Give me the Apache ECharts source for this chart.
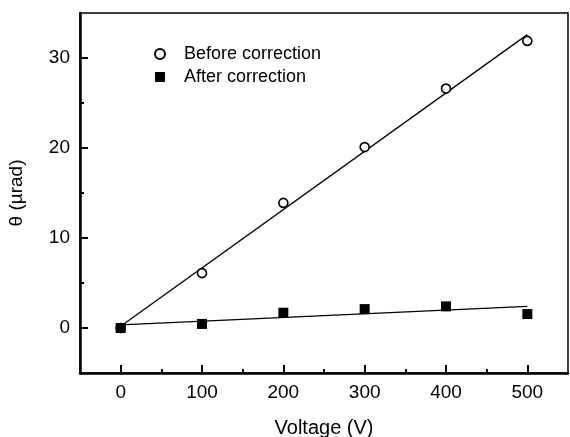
<!DOCTYPE html>
<html>
<head>
<meta charset="utf-8">
<script src="https://cdn.jsdelivr.net/npm/echarts@6/dist/echarts.min.js"></script>
<style>
  html, body { margin: 0; padding: 0; background: #fff; }
  #chart { width: 570px; height: 437px; }
</style>
</head>
<body>
<div id="chart"></div>
<script>
// voltage points
const voltage = [0, 100, 200, 300, 400, 500]
// theta (µrad)
const before = [0, 6.1, 13.9, 20.1, 26.6, 31.9]
const after = [0, 0.45, 1.7, 2.1, 2.4, 1.55]
// linear fit end points
const fitX = [0, 500]
const beforeFit = [0.2, 32.6]
const afterFit = [0.35, 2.4]
// ticks
const xMajor = [0, 100, 200, 300, 400, 500]
const xMinor = [50, 150, 250, 350, 450]
const yMajor = [0, 10, 20, 30]
const yMinor = [5, 15, 25]

const font = 'Liberation Sans, Arial, sans-serif'
const ink = '#000'
const pair = (xs, ys) => xs.map((x, i) => [x, ys[i]])

const chart = echarts.init(document.getElementById('chart'))

const baseX = { type: 'value', min: -50, max: 550, splitLine: { show: false } }
const baseY = { type: 'value', min: -5, max: 35, splitLine: { show: false } }

chart.setOption({
  animation: false,
  grid: {
    left: 80, right: 2, top: 13, bottom: 64,
    outerBoundsMode: 'none',
    show: true, borderColor: ink, borderWidth: 1.5
  },
  legend: {
    data: ['Before correction', 'After correction'],
    orient: 'vertical',
    left: 149, top: 40,
    itemWidth: 10, itemHeight: 10, itemGap: 5,
    textStyle: { fontFamily: font, fontSize: 18, color: ink, padding: [0, 0, 0, 14] }
  },
  xAxis: [
    Object.assign({}, baseX, {
      name: 'Voltage (V)', nameLocation: 'middle', nameGap: 45,
      nameTextStyle: { fontFamily: font, fontSize: 20, color: ink },
      axisLine: { onZero: false, lineStyle: { color: ink, width: 2.5 } },
      axisTick: { inside: true, length: 8, customValues: xMajor, lineStyle: { color: ink, width: 2 } },
      axisLabel: { customValues: xMajor, fontFamily: font, fontSize: 19, color: ink, margin: 10 }
    }),
    Object.assign({}, baseX, {
      position: 'bottom',
      axisLine: { show: false, onZero: false },
      axisTick: { inside: true, length: 4, customValues: xMinor, lineStyle: { color: ink, width: 2 } },
      axisLabel: { show: false }
    })
  ],
  yAxis: [
    Object.assign({}, baseY, {
      name: 'θ (µrad)', nameLocation: 'middle', nameGap: 54,
      nameTextStyle: { fontFamily: font, fontSize: 19, color: ink },
      axisLine: { onZero: false, lineStyle: { color: ink, width: 2.5 } },
      axisTick: { inside: true, length: 8, customValues: yMajor, lineStyle: { color: ink, width: 2 } },
      axisLabel: { customValues: yMajor, fontFamily: font, fontSize: 19, color: ink, margin: 10 }
    }),
    Object.assign({}, baseY, {
      position: 'left',
      axisLine: { show: false, onZero: false },
      axisTick: { inside: true, length: 4, customValues: yMinor, lineStyle: { color: ink, width: 2 } },
      axisLabel: { show: false }
    })
  ],
  series: [
    {
      name: 'Before fit', type: 'line', data: pair(fitX, beforeFit),
      showSymbol: false, lineStyle: { color: ink, width: 1.3 }, z: 2
    },
    {
      name: 'After fit', type: 'line', data: pair(fitX, afterFit),
      showSymbol: false, lineStyle: { color: ink, width: 1.3 }, z: 2
    },
    {
      name: 'Before correction', type: 'scatter', data: pair(voltage, before),
      symbol: 'circle', symbolSize: 9,
      itemStyle: { color: '#fff', borderColor: ink, borderWidth: 1.6, opacity: 1 }, z: 3
    },
    {
      name: 'After correction', type: 'scatter', data: pair(voltage, after),
      symbol: 'rect', symbolSize: 10,
      itemStyle: { color: ink, opacity: 1 }, z: 4
    }
  ]
})
</script>
</body>
</html>
